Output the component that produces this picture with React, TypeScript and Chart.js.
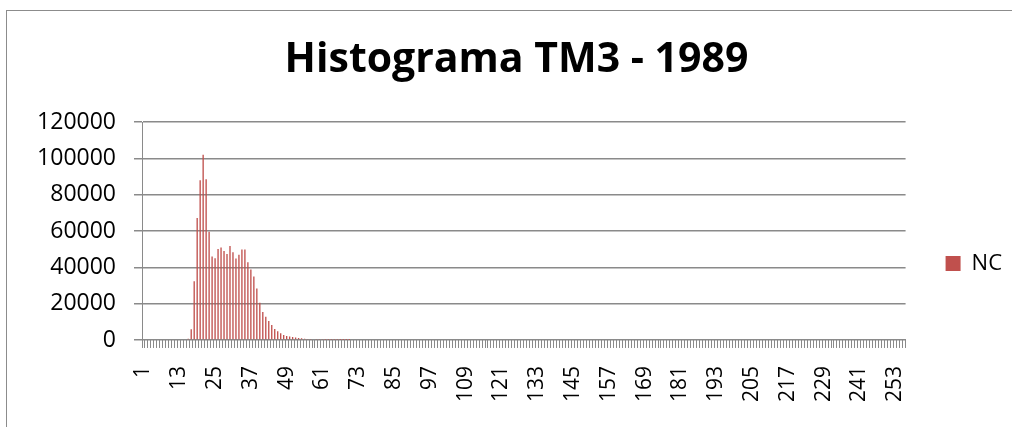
import { useEffect, useRef } from 'react';
import { Chart, registerables } from 'chart.js';

Chart.register(...registerables);

const chartTitle = 'Histograma TM3 - 1989';
const seriesName = 'NC';

const categories: string[] = Array.from({ length: 256 }, (_, i) => String(i + 1));

const ncValues: number[] = [
  // 1-15
  0, 0, 0, 0, 0, 0, 0, 0, 0, 0, 0, 0, 0, 0, 0,
  // 16-30
  700, 5900, 32400, 67200, 88000, 102000, 88600, 59700, 46000, 45100, 50100, 51000, 49000, 47400, 51800,
  // 31-45
  48400, 44900, 46900, 49800, 49800, 42800, 38900, 35000, 28400, 20500, 15400, 12800, 10500, 8300, 6100,
  // 46-60
  4800, 3700, 2800, 2200, 1850, 1650, 1300, 1100, 900, 700, 550, 500, 350, 300, 250,
  // 61-70
  200, 150, 120, 100, 80, 60, 50, 40, 30, 20,
  // 71-100
  0, 0, 0, 0, 0, 0, 0, 0, 0, 0, 0, 0, 0, 0, 0, 0, 0, 0, 0, 0, 0, 0, 0, 0, 0, 0, 0, 0, 0, 0,
  // 101-130
  0, 0, 0, 0, 0, 0, 0, 0, 0, 0, 0, 0, 0, 0, 0, 0, 0, 0, 0, 0, 0, 0, 0, 0, 0, 0, 0, 0, 0, 0,
  // 131-160
  0, 0, 0, 0, 0, 0, 0, 0, 0, 0, 0, 0, 0, 0, 0, 0, 0, 0, 0, 0, 0, 0, 0, 0, 0, 0, 0, 0, 0, 0,
  // 161-190
  0, 0, 0, 0, 0, 0, 0, 0, 0, 0, 0, 0, 0, 0, 0, 0, 0, 0, 0, 0, 0, 0, 0, 0, 0, 0, 0, 0, 0, 0,
  // 191-220
  0, 0, 0, 0, 0, 0, 0, 0, 0, 0, 0, 0, 0, 0, 0, 0, 0, 0, 0, 0, 0, 0, 0, 0, 0, 0, 0, 0, 0, 0,
  // 221-250
  0, 0, 0, 0, 0, 0, 0, 0, 0, 0, 0, 0, 0, 0, 0, 0, 0, 0, 0, 0, 0, 0, 0, 0, 0, 0, 0, 0, 0, 0,
  // 251-256
  0, 0, 0, 0, 0, 0,
];

const xTickLabels: string[] = [
  '1', '13', '25', '37', '49', '61', '73', '85', '97', '109', '121', '133', '145',
  '157', '169', '181', '193', '205', '217', '229', '241', '253',
];

const yMin = 0;
const yMax = 120000;
const yStep = 20000;

const FONT = 'Open Sans';
const GRID = '#8a8a8a';

export default function App() {
  const canvasRef = useRef<HTMLCanvasElement>(null);

  useEffect(() => {
    if (!canvasRef.current) return;
    const chart = new Chart(canvasRef.current, {
      type: 'bar',
      data: {
        labels: categories,
        datasets: [
          {
            label: seriesName,
            data: ncValues,
            backgroundColor: '#C0504D',
            borderWidth: 0,
            barPercentage: 0.45,
            categoryPercentage: 1,
          },
        ],
      },
      options: {
        animation: false,
        responsive: false,
        devicePixelRatio: 1,
        layout: { padding: { left: 21, right: 0, top: 0, bottom: 7 } },
        plugins: {
          title: {
            display: true,
            text: chartTitle,
            color: '#000',
            font: { family: FONT, size: 41, weight: 'bold' },
            padding: { top: 36, bottom: 37 },
          },
          legend: {
            position: 'right',
            title: { display: true, text: '', font: { size: 10 }, padding: { top: 47, bottom: 48 } },
            labels: {
              boxWidth: 15,
              boxHeight: 15,
              padding: 40,
              color: '#000',
              font: { family: FONT, size: 22 },
            },
          },
          tooltip: { enabled: false },
        },
        scales: {
          x: {
            grid: {
              display: true,
              drawOnChartArea: false,
              drawTicks: true,
              tickLength: 8,
              color: GRID,
              lineWidth: 1,
            },
            border: { display: true, color: GRID, width: 1 },
            ticks: {
              autoSkip: false,
              maxRotation: 90,
              minRotation: 90,
              padding: 18,
              color: '#000',
              font: { family: FONT, size: 21 },
              callback: (_v: any, i: number) => (xTickLabels.includes(categories[i]) ? categories[i] : ''),
            },
          },
          y: {
            min: yMin,
            max: yMax,
            ticks: {
              stepSize: yStep,
              padding: 18,
              color: '#000',
              font: { family: FONT, size: 23 },
              callback: (v: any) => String(v),
            },
            grid: { color: GRID, lineWidth: 1.5, tickLength: 8 },
            border: { display: true, color: GRID, width: 1 },
            afterFit: (s: any) => {
              s.width = 121;
            },
          },
        },
      },
    });
    return () => chart.destroy();
  }, []);

  return (
    <div
      style={{
        position: 'fixed',
        left: 0,
        top: 0,
        width: 1012,
        height: 427,
        overflow: 'hidden',
        background: '#fff',
      }}
    >
      <div
        style={{
          position: 'absolute',
          left: 6,
          top: 10,
          width: 1200,
          height: 600,
          border: '1px solid #8c8c8c',
        }}
      />
      <canvas
        ref={canvasRef}
        width={1012}
        height={427}
        style={{ position: 'absolute', left: 0, top: 0, width: 1012, height: 427 }}
      />
    </div>
  );
}
